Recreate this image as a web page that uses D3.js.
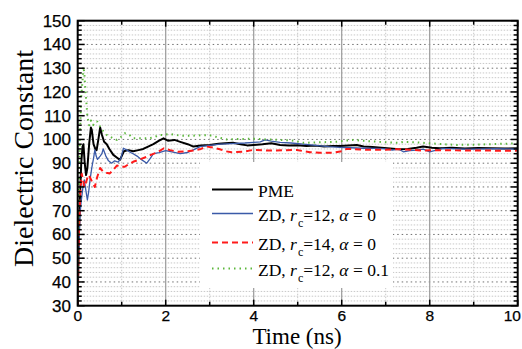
<!DOCTYPE html>
<html><head><meta charset="utf-8">
<script src="https://cdn.jsdelivr.net/npm/d3@7"></script>
<style>body{margin:0;background:#fff}svg{display:block}</style>
</head><body>
<svg id="c" width="522" height="349"></svg>
<script>
const xTicks = [0,2,4,6,8,10];
const yTicks = [30,40,50,60,70,80,90,100,110,120,130,140,150];

const pmeT = [0,0.02,0.05,0.08,0.11,0.13,0.16,0.19,0.22,0.26,0.30,0.32,0.36,0.40,0.43,0.47,0.51,0.55,0.60,0.66,0.72,0.81,0.88,0.96,1.0,1.05,1.15,1.26,1.38,1.49,1.6,1.72,1.85,1.95,2.05,2.2,2.33,2.5,2.63,2.8,3.0,3.2,3.35,3.53,3.7,3.85,4.0,4.2,4.4,4.6,4.8,5.0,5.2,5.4,5.6,5.8,5.96,6.15,6.34,6.5,6.7,6.9,7.1,7.3,7.5,7.7,7.85,8.05,8.23,8.5,8.8,9.1,9.4,9.7,10];
const pmeV = [30,55,75,90,97,98,90,85,88,98,105,104,98,96,95.5,100,105,102,99,98,96,93.5,92.5,91.4,93,95,95.5,95,95.5,96,97,98,99.5,100.5,99.5,99.8,99,98,97,97.5,97.7,98.2,98.4,98.6,98,97.5,97.7,98,98.4,97.7,97.5,97.6,97.2,97.4,97,97.2,97.2,97.5,97.7,97,96.8,96.5,96.2,95.9,96,96.5,97,96.5,96.3,96.5,96.2,96.4,96.3,96.2,96.3];

const zd12T = [0,0.02,0.05,0.08,0.12,0.15,0.19,0.22,0.25,0.28,0.32,0.36,0.39,0.42,0.45,0.51,0.55,0.58,0.64,0.7,0.77,0.84,0.92,0.98,1.04,1.12,1.2,1.26,1.35,1.45,1.57,1.65,1.72,1.85,2.0,2.14,2.33,2.5,2.63,2.78,3.0,3.24,3.5,3.8,4.0,4.15,4.26,4.4,4.6,4.85,5.13,5.4,5.7,5.96,6.2,6.5,6.8,7.0,7.15,7.3,7.4,7.55,7.7,7.85,8.0,8.15,8.3,8.6,8.9,9.2,9.5,9.8,10];
const zd12V = [30,50,68,74,80,83,78,74.5,78,83,88,92,95.6,93,91.6,93,94,96,93,91,90,91,90.5,92,96.3,95.5,94.5,94,93,91.5,90,92,94,94.5,95.3,94.8,94,94.5,95.6,97,97.5,98,98.2,98.5,98.8,99,99.8,99.3,98.8,98.5,98,97.5,97,96.7,96.5,96.3,96.2,96,95.5,95.9,94.8,95.3,95.5,95.9,94.8,95.5,96.2,96,95.9,96,96.1,96,95.9];

const zd14T = [0,0.03,0.06,0.09,0.12,0.15,0.19,0.24,0.28,0.33,0.39,0.44,0.51,0.58,0.65,0.73,0.8,0.89,0.98,1.07,1.15,1.26,1.4,1.57,1.66,1.8,1.96,2.1,2.28,2.45,2.63,2.8,2.93,3.1,3.23,3.37,3.5,3.76,3.99,4.3,4.52,4.75,4.98,5.15,5.28,5.5,5.8,6.0,6.11,6.4,6.7,7.0,7.3,7.6,7.85,8.2,8.6,8.9,9.3,9.6,10];
const zd14V = [30,63,78,85.7,83,80,82,85,84,82,80,84,88,86.4,86,85.7,87,89,88.5,88.5,89.5,90.6,91.5,92.7,93.5,94.5,96.3,95.5,94.8,95,95.3,96,97,96.5,95.9,95,94.6,94.8,95.6,95.3,95.3,95.5,95.6,95,94.6,94.4,94.4,95,96,95.8,95.6,95.7,95.9,95.6,95.3,95.5,95.4,95.3,95.4,95.2,95.3];

const zdaT = [0,0.02,0.05,0.08,0.11,0.13,0.15,0.17,0.2,0.22,0.26,0.3,0.35,0.4,0.45,0.51,0.58,0.66,0.75,0.89,0.98,1.07,1.17,1.26,1.32,1.49,1.62,1.75,1.85,1.95,2.1,2.36,2.63,2.85,3.05,3.2,3.39,3.69,4.0,4.3,4.6,4.9,5.13,5.5,5.89,6.1,6.26,6.6,7.0,7.3,7.4,7.7,8.0,8.3,8.61,9.0,9.37,9.7,10];
const zdaV = [30,70,101,118,125,130.6,128,122,115,109.6,106,108,106,107.5,107.5,105.4,103.5,101.9,101,99.8,101,102.6,102,100.5,100.5,100.5,100.5,101,101.9,101.9,102.3,101.5,101.6,101.8,101.6,100.8,100,100.2,100.3,100,99.8,99.5,98.6,98.8,99,99.5,99.8,99.3,98.8,98.6,99,98.8,98.4,98,97.7,97.8,98,98.2,98.4];

const series = [
  {name:"PME", t:pmeT, v:pmeV, color:"#000000", w:2, dash:null},
  {name:"ZD12", t:zd12T, v:zd12V, color:"#3a5aa8", w:1.3, dash:null},
  {name:"ZD14", t:zd14T, v:zd14V, color:"#ff1a1a", w:2, dash:"6,4"},
  {name:"ZDa", t:zdaT, v:zdaV, color:"#5cb83c", w:2, dash:"1.5,4"}
];

const L = 77.7, R = 517.7, T = 20.7, B = 305.7;
const x = d3.scaleLinear().domain([0,10]).range([L,R]);
const y = d3.scaleLinear().domain([30,150]).range([B,T]);
const svg = d3.select("#c");

svg.append("defs").append("clipPath").attr("id","clip")
  .append("rect").attr("x",L).attr("y",T).attr("width",R-L).attr("height",B-T);

const g = svg.append("g");
g.selectAll(".hm").data(d3.range(32,150,2).filter(v=>v%10!==0)).join("line")
  .attr("x1",L).attr("x2",R).attr("y1",d=>y(d)).attr("y2",d=>y(d))
  .attr("stroke","#c8c8c8").attr("stroke-width",1).attr("stroke-dasharray","1.5,1.5");
g.selectAll(".hM").data(yTicks.slice(1,-1)).join("line")
  .attr("x1",L).attr("x2",R).attr("y1",d=>y(d)).attr("y2",d=>y(d))
  .attr("stroke","#707070").attr("stroke-width",1).attr("stroke-dasharray","1.5,3");
g.selectAll(".vm").data([1,3,5,7,9]).join("line")
  .attr("x1",d=>x(d)).attr("x2",d=>x(d)).attr("y1",T).attr("y2",B)
  .attr("stroke","#c8c8c8").attr("stroke-width",1).attr("stroke-dasharray","1.5,1.5");
g.selectAll(".vM").data(xTicks.slice(1,-1)).join("line")
  .attr("x1",d=>x(d)).attr("x2",d=>x(d)).attr("y1",T).attr("y2",B)
  .attr("stroke","#999").attr("stroke-width",1.2);

const line = d3.line().x(d=>x(d[0])).y(d=>y(d[1]));
const lg = svg.append("g").attr("clip-path","url(#clip)");
for (const s of series) {
  const pts = s.t.map((t,i)=>[t,s.v[i]]);
  lg.append("path").datum(pts).attr("d",line).attr("fill","none")
    .attr("stroke",s.color).attr("stroke-width",s.w)
    .attr("stroke-dasharray",s.dash).attr("stroke-linejoin","round");
}

const minorY = d3.range(30,151,2);
svg.selectAll(".tl").data(minorY).join("line")
  .attr("x1",L).attr("x2",d=>L+(d%10===0?7:4)).attr("y1",d=>y(d)).attr("y2",d=>y(d))
  .attr("stroke","#000").attr("stroke-width",1.5);
svg.selectAll(".tr").data(minorY).join("line")
  .attr("x1",R).attr("x2",d=>R-(d%10===0?7:4)).attr("y1",d=>y(d)).attr("y2",d=>y(d))
  .attr("stroke","#000").attr("stroke-width",1.5);
const minorX = d3.range(0,10.01,1);
svg.selectAll(".tt").data(minorX).join("line")
  .attr("x1",d=>x(d)).attr("x2",d=>x(d)).attr("y1",T).attr("y2",d=>T+(d%2===0?6:4))
  .attr("stroke","#000").attr("stroke-width",1.5);
svg.selectAll(".tb").data(minorX).join("line")
  .attr("x1",d=>x(d)).attr("x2",d=>x(d)).attr("y1",B).attr("y2",d=>B-(d%2===0?6:4))
  .attr("stroke","#000").attr("stroke-width",1.5);

svg.append("rect").attr("x",L).attr("y",T).attr("width",R-L).attr("height",B-T)
  .attr("fill","none").attr("stroke","#000").attr("stroke-width",2);

svg.selectAll(".yl").data(yTicks).join("text")
  .attr("x",71).attr("y",d=>y(d)+6).attr("text-anchor","end")
  .attr("font-family","Liberation Sans, Arial, sans-serif").attr("font-size",17)
  .attr("stroke","#000").attr("stroke-width",0.25)
  .text(d=>d);
svg.selectAll(".xl").data(xTicks).join("text")
  .attr("x",d=>d===10?521:x(d)).attr("y",321).attr("text-anchor",d=>d===10?"end":"middle")
  .attr("font-family","Liberation Sans, Arial, sans-serif").attr("font-size",15.5)
  .attr("stroke","#000").attr("stroke-width",0.25)
  .text(d=>d);

svg.append("text").attr("transform","translate(33,158.5) rotate(-90)")
  .attr("text-anchor","middle").attr("font-family","Liberation Serif, Times New Roman, serif")
  .attr("font-size",28).text("Dielectric Constant");
svg.append("text").attr("x",297).attr("y",344).attr("text-anchor","middle")
  .attr("font-family","Liberation Serif, Times New Roman, serif")
  .attr("font-size",23).text("Time (ns)");

const legendLabels = [
  {key:"PME", parts:[["PME"]]},
  {key:"ZD12", parts:[["ZD, "],["r","i"],["c","sub"],["=12, ","up"],["α","i"],[" = 0"]]},
  {key:"ZD14", parts:[["ZD, "],["r","i"],["c","sub"],["=14, ","up"],["α","i"],[" = 0"]]},
  {key:"ZDa", parts:[["ZD, "],["r","i"],["c","sub"],["=12, ","up"],["α","i"],[" = 0.1"]]}
];
const legendY = [189.5, 213.5, 242.5, 268.5];
const leg = svg.append("g");
leg.append("rect").attr("x",200).attr("y",162).attr("width",193).attr("height",126).attr("fill","#fff");
legendLabels.forEach((item,i)=>{
  const s = series.find(q=>q.name===item.key);
  const ly = legendY[i];
  leg.append("line").attr("x1",212).attr("x2",253).attr("y1",ly).attr("y2",ly)
    .attr("stroke",s.color).attr("stroke-width",s.w).attr("stroke-dasharray",s.dash);
  const t = leg.append("text").attr("x",258).attr("y",ly+7)
    .attr("font-family","Liberation Serif, Times New Roman, serif").attr("font-size",17.5);
  item.parts.forEach(p=>{
    const sp = t.append("tspan").text(p[0]);
    if (p[1]==="i") sp.attr("font-style","italic");
    if (p[1]==="sub") sp.attr("font-size",12).attr("dy",6).attr("dx",1);
    if (p[1]==="up") sp.attr("dy",-6);
  });
});
</script>
</body></html>
